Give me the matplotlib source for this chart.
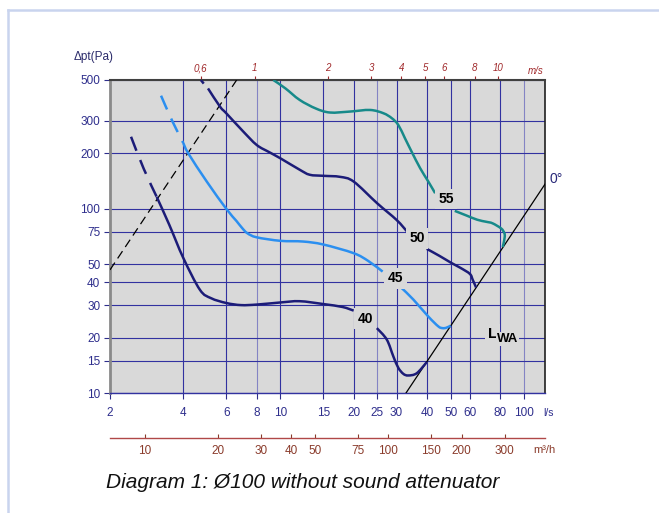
import numpy as np
import matplotlib
matplotlib.use("Agg")
from matplotlib import pyplot as plt
from matplotlib.ticker import NullLocator, FixedLocator
from matplotlib.lines import Line2D
from matplotlib.path import Path
from matplotlib.patches import PathPatch

plt.rcParams['font.family'] = ['Liberation Sans', 'DejaVu Sans']

# flow axis (l/s) and pressure axis (Pa)
x_ticks = [2, 4, 6, 8, 10, 15, 20, 25, 30, 40, 50, 60, 80, 100]
y_ticks = [10, 15, 20, 30, 40, 50, 75, 100, 200, 300, 500]
x_light = [8, 25, 100]
ms_ticks = [0.6, 1, 2, 3, 4, 5, 6, 8, 10]
ms_labels = ['0,6', '1', '2', '3', '4', '5', '6', '8', '10']
m3h_ticks = [10, 20, 30, 40, 50, 75, 100, 150, 200, 300]

# sound level curves, dashed start + solid parts (broken at the labels)
c40_dash_x = [2.44, 2.75, 3.11]
c40_dash_y = [246, 165, 116]
c40_a_x = [3.11, 3.5, 4.0, 4.68, 5.2, 6.0, 6.9, 8.0, 10, 12, 15, 18, 20]
c40_a_y = [116, 82, 54, 36.3, 32.7, 30.8, 30.0, 30.2, 31, 31.5, 30.4, 29.3, 28]
c40_b_x = [24.9, 27.35, 29.1, 30.5, 32.0, 33.5, 36.3, 39.9]
c40_b_y = [22.5, 19.5, 15.8, 13.7, 12.7, 12.45, 12.8, 14.7]

c45_dash_x = [3.24, 3.6, 4.0]
c45_dash_y = [411, 300, 227]
c45_a_x = [4.0, 4.19, 5.0, 6.0, 6.6, 6.95, 7.32, 8, 10, 12.4, 15, 20, 23, 26.3]
c45_a_y = [227, 200, 140, 100, 86, 79, 73.7, 70, 67, 66.4, 64, 57.4, 52, 45.6]
c45_b_x = [31.5, 35.2, 40.5, 44.5, 46.3, 48, 50]
c45_b_y = [37.1, 32.1, 26.0, 23.0, 22.5, 22.6, 23.2]

c50_dash_x = [4.72, 4.85]
c50_dash_y = [500, 478]
c50_a_x = [5.05, 5.66, 6.0, 7.0, 8.0, 9.0, 10, 12, 13.2, 15, 17.6, 20, 25, 30, 33.2]
c50_a_y = [450, 358, 330, 265, 222, 203, 188, 163, 153, 151, 149, 140.5, 107, 87, 75]
c50_b_x = [39.9, 45, 50.5, 55, 60, 61.6, 63.6]
c50_b_y = [60.6, 55.5, 50.7, 47.7, 44.3, 41.2, 37.4]

c55_a_x = [9.36, 10.5, 12, 14, 16, 19.3, 23.35, 26.5, 28.7, 30.5, 32.5, 34.6, 37.5, 40.5, 43.2]
c55_a_y = [500, 450, 390, 350, 333, 337, 343.8, 330, 310, 285, 241, 204, 166, 140.5, 121.5]
c55_b_x = [52, 58, 64.3, 70, 74.3, 80.6, 83, 83.4, 82.5, 81.8]
c55_b_y = [97.4, 92, 87.2, 85, 83.4, 78.2, 74, 70.6, 65, 62]

lwa_x = [32.8, 122]
lwa_y = [10, 136]
ref_x = [2, 6.62]
ref_y = [46.6, 500]

labels = ['40', '45', '50', '55']
label_x = [22.3, 29.7, 36.4, 47.9]
label_y = [25.3, 41.9, 69.0, 113]

navy = '#1c1c78'
blue = '#2b8ff0'
teal = '#178a8a'
grid_c = '#3232a0'
tick_c = '#2e2e8c'
red = '#a0282a'
brown = '#8a3b2b'
bg = '#d9d9d9'


def curve(ax, xs, ys, **kw):
    # smooth curve through the points (Catmull-Rom in log-log space)
    p = np.column_stack([np.log10(xs), np.log10(ys)])
    verts = [p[0]]
    codes = [Path.MOVETO]
    for i in range(len(p) - 1):
        p0 = p[i - 1] if i > 0 else p[i]
        p3 = p[i + 2] if i + 2 < len(p) else p[i + 1]
        verts += [p[i] + (p[i + 1] - p0) / 6, p[i + 1] - (p3 - p[i]) / 6, p[i + 1]]
        codes += [Path.CURVE4] * 3
    path = Path(10 ** np.array(verts), codes)
    ax.add_patch(PathPatch(path, facecolor='none', capstyle='butt', zorder=4, **kw))


fig = plt.figure(figsize=(6.59, 5.13), dpi=100)
ax = fig.add_axes([110/659, 1-393/513, 435/659, 313/513])
ax.set_xscale('log')
ax.set_yscale('log')
ax.set_xlim(2, 122)
ax.set_ylim(10, 500)
ax.set_facecolor(bg)

for gx in x_ticks[1:]:
    ax.axvline(gx, color='#8484c4' if gx in x_light else grid_c, lw=0.8, zorder=1)
for gy in y_ticks:
    ax.axhline(gy, color=grid_c, lw=0.8, zorder=1)

lw = 1.8
ax.plot(ref_x, ref_y, color='black', lw=0.9, dashes=(7, 4), zorder=3)
ax.plot(lwa_x, lwa_y, color='black', lw=0.9, zorder=3)

dash = (0, (6, 4))
curve(ax, c40_dash_x, c40_dash_y, edgecolor=navy, lw=lw, linestyle=dash)
curve(ax, c40_a_x, c40_a_y, edgecolor=navy, lw=lw)
curve(ax, c40_b_x, c40_b_y, edgecolor=navy, lw=lw)

curve(ax, c45_dash_x, c45_dash_y, edgecolor=blue, lw=lw, linestyle=dash)
curve(ax, c45_a_x, c45_a_y, edgecolor=blue, lw=lw)
curve(ax, c45_b_x, c45_b_y, edgecolor=blue, lw=lw)

curve(ax, c50_dash_x, c50_dash_y, edgecolor=navy, lw=lw)
curve(ax, c50_a_x, c50_a_y, edgecolor=navy, lw=lw)
curve(ax, c50_b_x, c50_b_y, edgecolor=navy, lw=lw)

curve(ax, c55_a_x, c55_a_y, edgecolor=teal, lw=lw)
curve(ax, c55_b_x, c55_b_y, edgecolor=teal, lw=lw)

for t, lx, ly in zip(labels, label_x, label_y):
    ax.text(lx, ly, t, fontsize=10, fontweight='bold', ha='center', va='center',
            color='black', zorder=5,
            bbox=dict(facecolor=bg, edgecolor='none', pad=2.5))

# L_WA label
ax.text(71.2, 21.0, 'L', fontsize=11, fontweight='bold', ha='left', va='center',
        zorder=5, bbox=dict(facecolor=bg, edgecolor='none', pad=2))
ax.text(77.6, 19.7, 'WA', fontsize=9.5, fontweight='bold', ha='left', va='center',
        zorder=6, bbox=dict(facecolor=bg, edgecolor='none', pad=0.6))

# axes styling
ax.xaxis.set_major_locator(FixedLocator(x_ticks))
ax.yaxis.set_major_locator(FixedLocator(y_ticks))
ax.xaxis.set_minor_locator(NullLocator())
ax.yaxis.set_minor_locator(NullLocator())
ax.set_xticklabels([str(v) for v in x_ticks])
ax.set_yticklabels([str(v) for v in y_ticks])
ax.tick_params(axis='both', colors=tick_c, labelsize=8.5, length=4, width=0.8)
ax.tick_params(axis='x', pad=6)
ax.tick_params(axis='y', pad=3)
ax.spines['left'].set_color('#8a8a8a')
ax.spines['left'].set_linewidth(2)
ax.spines['top'].set_color('#404040')
ax.spines['top'].set_linewidth(1.5)
ax.spines['right'].set_color('#202020')
ax.spines['right'].set_linewidth(1.2)
ax.spines['bottom'].set_color(grid_c)
ax.spines['bottom'].set_linewidth(1.0)

# air velocity scale on top (duct area 0.007854 m2)
area = 7.854
top = ax.secondary_xaxis('top', functions=(lambda q: q / area, lambda v: v * area))
top.xaxis.set_major_locator(FixedLocator(ms_ticks))
top.xaxis.set_minor_locator(NullLocator())
top.set_xticklabels(ms_labels, fontstyle='italic')
top.tick_params(colors=red, labelsize=7, length=3, width=0.8, pad=2)
top.spines['top'].set_visible(False)

# m3/h scale below
bot = ax.secondary_xaxis(-0.1447, functions=(lambda q: q * 3.6, lambda m: m / 3.6))
bot.xaxis.set_major_locator(FixedLocator(m3h_ticks))
bot.xaxis.set_minor_locator(NullLocator())
bot.set_xticklabels([str(v) for v in m3h_ticks])
bot.tick_params(colors=brown, labelsize=8.5, length=3, width=0.8, direction='in', pad=5)
bot.spines['bottom'].set_color('#b04848')
bot.spines['bottom'].set_linewidth(1.0)

fig.text(74/659, 1-57/513, 'Δpt(Pa)', fontsize=8.5, color='#2a2a6a', ha='left', va='center')
fig.text(528/659, 1-71/513, 'm/s', fontsize=7, color=red, fontstyle='italic', ha='left', va='center')
fig.text(543/659, 1-413/513, 'l/s', fontsize=7.5, color=tick_c, ha='left', va='center')
fig.text(533/659, 1-450/513, 'm³/h', fontsize=8, color=brown, ha='left', va='center')
fig.text(550/659, 1-179/513, '0°', fontsize=10, color='#2a2a7a', ha='left', va='center')
fig.text(106/659, 1-483/513, 'Diagram 1: Ø100 without sound attenuator', fontsize=15,
         fontstyle='italic', color='#111111', ha='left', va='center')

# light frame around the sheet
frame_c = '#c9d4ee'
fig.add_artist(Line2D([8/659, 8/659], [0, 1-10/513], color=frame_c, lw=1.8))
fig.add_artist(Line2D([8/659, 1], [1-10/513, 1-10/513], color=frame_c, lw=1.8))

fig.savefig('out.png', dpi=100)
